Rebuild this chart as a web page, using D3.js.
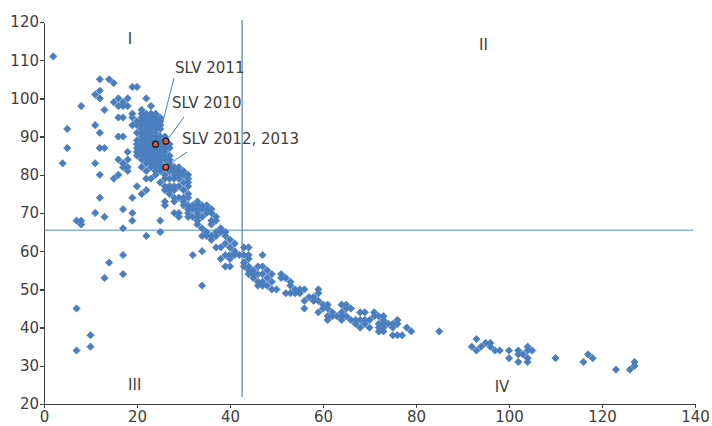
<!DOCTYPE html>
<meta charset="utf-8">
<title>Scatter with quadrants</title>
<style>
body { margin: 0; background: #fff; }
.axis text { font: 15px "DejaVu Sans", sans-serif; fill: #404040; }
.axis path, .axis line { stroke: #404040; stroke-width: 1.5; fill: none; shape-rendering: crispEdges; }
.label { font: 15px "DejaVu Sans", sans-serif; fill: #404040; }
</style>
<svg class="chart"></svg>
<script src="https://d3js.org/d3.v7.min.js"></script>
<script>

var xTicks = [0, 20, 40, 60, 80, 100, 120, 140];
var yTicks = [20, 30, 40, 50, 60, 70, 80, 90, 100, 110, 120];

// reference lines splitting the quadrants
var refX = 42.6, refY = 65.5;

var quadrants = [
  {name: "I", x: 18.5, y: 115.5},
  {name: "II", x: 94.5, y: 114},
  {name: "III", x: 19.5, y: 25},
  {name: "IV", x: 98.5, y: 24.5}
];

// sparse points on the left
var leftPoints = [
  [2,111],[4,83],[5,92],[5,87],[7,68],[8,68],[8,67],[7,45],[7,34],[10,38],[10,35],[8,98],
  [11,101],[12,102],[12,100],[12,105],[14,105],[15,104],[13,97],[11,93],[12,91],[12,87],[13,87],
  [11,83],[12,80],[12,74],[11,70],[13,69],[13,53],[14,57],
  [15,99],[16,100],[16,98],[17,98],[18,100],[18,98],[17,99],[19,103],[20,103],[16,95],[17,95],
  [19,96],[19,95],[19,93],[16,90],[17,90],[18,86],[16,84],[17,83],[18,84],[18,82],[17,82],
  [15,79],[16,80],[18,81],[17,71],[17,66],[17,59],[17,54],[19,74],[19,70],[19,68],[20,77],
  [21,75],[22,76],[22,64],[25,68],[25,65],[22,100],[23,98],[21,97],[22,79],[23,79]
];

// dense block around x 20-31, y 80-97
var clusterPoints = [
  [21,96],[22,96],[23,96],[24,96],
  [21,95],[22,95],[23,95],[24,95],[25,95],
  [20,94],[21,94],[22,94],[23,94],[24,94],[25,94],
  [20,93],[21,93],[22,93],[23,93],[24,93],[25,93],
  [21,92],[22,92],[23,92],[24,92],[25,92],
  [20,91],[21,91],[22,91],[23,91],[24,91],
  [21,90],[22,90],[23,90],[24,90],[25,90],[26,90],
  [20,89],[21,89],[22,89],[23,89],[24,89],[25,89],
  [20,88],[21,88],[22,88],[23,88],[25,88],[26,88],[27,88],
  [20,87],[21,87],[22,87],[23,87],[24,87],[25,87],[26,87],[27,87],
  [20,86],[21,86],[22,86],[23,86],[24,86],[25,86],[26,86],
  [20,85],[21,85],[22,85],[23,85],[24,85],[25,85],[26,85],[27,85],
  [21,84],[22,84],[23,84],[24,84],[25,84],[26,84],[27,84],
  [22,83],[23,83],[24,83],[25,83],[27,83],
  [21,82],[23,82],[24,82],[25,82],[27,82],[28,82],[29,82],
  [22,81],[24,81],[25,81],[27,81],[28,81],[29,81],[30,81],
  [24,80],[26,80],[28,80],[29,80],[30,80],[31,80]
];

// diagonal band from x 23 to 47
var bandPoints = [
  [26,79],[27,79],[28,79],[29,79],[31,79],
  [25,78],[30,78],[31,78],
  [26,77],[27,77],[28,77],[29,77],[31,77],
  [26,76],[27,76],[28,76],[30,76],
  [27,75],[31,75],
  [28,74],[29,74],[30,74],[31,74],
  [26,73],[28,73],[30,73],[33,73],
  [26,72],[30,72],[31,72],[32,72],[33,72],[34,72],[35,72],
  [31,71],[32,71],[33,71],[34,71],[35,71],[36,71],
  [28,70],[29,70],[31,70],[33,70],[35,70],[36,70],
  [29,69],[31,69],[32,69],[33,69],[34,69],[37,69],
  [33,68],[36,68],[37,68],
  [33,67],[36,67],
  [34,66],[38,66],
  [35,65],[37,65],[38,65],[39,65],
  [34,64],[35,64],[36,64],[37,64],[39,64],
  [36,63],[40,63],
  [39,62],[41,62],
  [37,61],[38,61],[40,61],[43,61],[44,61],
  [34,60],[41,60],
  [32,59],[39,59],[40,59],[41,59],[42,59],[43,59],[44,59],[47,59],
  [38,58],[40,58],[44,58],
  [43,57],
  [39,56],[40,56],[44,56],
  [34,51]
];

// lower band from x 43 to 85
var tailPoints = [
  [43,56],[44,55],[45,55],[46,56],[47,56],[48,55],[49,54],[44,54],[45,54],[46,54],[47,54],
  [45,53],[46,52],[47,52],[48,53],[49,52],[46,51],[47,51],[48,51],[49,50],[50,50],
  [51,54],[51,53],[52,53],[53,52],[53,51],[52,49],[53,49],[54,49],[55,49],[56,50],[54,50],[55,50],
  [56,47],[57,48],[58,48],[58,47],[59,49],[59,50],[56,45],
  [59,47],[60,46],[59,44],[60,45],[61,45],[61,46],[61,43],[62,44],[61,42],[62,43],[63,43],
  [64,44],[64,46],[65,46],[65,45],[66,45],[64,43],[65,43],[66,42],[67,42],[67,41],[64,42],
  [68,44],[69,44],[68,42],[69,42],[69,41],[70,42],[68,40],[70,40],
  [71,44],[71,43],[72,43],[73,43],[73,42],[72,41],[73,41],[72,40],[73,40],[72,39],[73,39],
  [74,41],[75,41],[76,42],[76,41],[75,40],[75,38],[76,38],[77,38],[78,40],[79,39],
  [85,39]
];

// far right points
var rightPoints = [
  [92,35],[93,37],[93,34],[94,35],[95,36],[96,36],[96,35],[97,34],[98,34],
  [100,34],[100,32],[102,34],[102,33],[102,31],[103,33],[104,35],[104,34],[104,32],[104,31],[105,34],
  [110,32],[116,31],[117,33],[118,32],[123,29],[126,29],[127,30],[127,31]
];

var highlighted = [
  {label: "SLV 2011", x: 24, y: 88, tx: 175, ty: 68, lx1: 174, ly1: 78},
  {label: "SLV 2010", x: 26.2, y: 88.8, tx: 172, ty: 103, lx1: 184, ly1: 117},
  {label: "SLV 2012, 2013", x: 26.2, y: 82, tx: 182, ty: 139, lx1: 187, ly1: 152}
];

var width = 712, height = 426;

var x = d3.scaleLinear().domain([0, 140]).range([44, 695]);
var y = d3.scaleLinear().domain([20, 120]).range([404, 22]);

var svg = d3.select(".chart")
    .attr("width", width)
    .attr("height", height);

// reference lines
svg.append("line")
    .attr("x1", x(0)).attr("x2", 693)
    .attr("y1", y(refY)).attr("y2", y(refY))
    .attr("stroke", "#8eb0dc").attr("stroke-width", 1.6);

svg.append("line")
    .attr("x1", x(refX)).attr("x2", x(refX))
    .attr("y1", 20).attr("y2", 397)
    .attr("stroke", "#4f7fc0").attr("stroke-width", 1.2);

var allPoints = leftPoints.concat(clusterPoints, bandPoints, tailPoints, rightPoints);

var diamond = d3.symbol().type(d3.symbolSquare).size(26);

svg.append("g").selectAll("path")
    .data(allPoints)
    .enter().append("path")
    .attr("d", diamond)
    .attr("transform", function(d) { return "translate(" + x(d[0]) + "," + y(d[1]) + ") rotate(45)"; })
    .attr("fill", "#4a7ebf")
    .attr("stroke", "#4a7ebf")
    .attr("stroke-width", 0.8);

svg.append("g")
    .attr("class", "x axis")
    .attr("transform", "translate(0," + y(20) + ")")
    .call(d3.axisBottom(x).tickValues(xTicks).tickSize(4).tickPadding(3).tickSizeOuter(0));

svg.append("g")
    .attr("class", "y axis")
    .attr("transform", "translate(" + x(0) + ",0)")
    .call(d3.axisLeft(y).tickValues(yTicks).tickSize(4).tickPadding(1).tickSizeOuter(0));

// annotation lines and highlighted points
svg.append("g").selectAll("line")
    .data(highlighted)
    .enter().append("line")
    .attr("x1", function(d) { return d.lx1; })
    .attr("y1", function(d) { return d.ly1; })
    .attr("x2", function(d) { return x(d.x) + 2; })
    .attr("y2", function(d) { return y(d.y) - 2; })
    .attr("stroke", "#4a7ebf").attr("stroke-width", 1);

svg.append("g").selectAll("circle")
    .data(highlighted)
    .enter().append("circle")
    .attr("cx", function(d) { return x(d.x); })
    .attr("cy", function(d) { return y(d.y); })
    .attr("r", 3)
    .attr("fill", "#d9534f")
    .attr("stroke", "#222")
    .attr("stroke-width", 1.3);

svg.append("g").selectAll("text")
    .data(highlighted)
    .enter().append("text")
    .attr("class", "label")
    .attr("x", function(d) { return d.tx; })
    .attr("y", function(d) { return d.ty; })
    .attr("dy", "0.35em")
    .text(function(d) { return d.label; });

svg.append("g").selectAll("text")
    .data(quadrants)
    .enter().append("text")
    .attr("class", "label")
    .attr("x", function(d) { return x(d.x); })
    .attr("y", function(d) { return y(d.y); })
    .attr("dy", "0.35em")
    .attr("text-anchor", "middle")
    .text(function(d) { return d.name; });

</script>
